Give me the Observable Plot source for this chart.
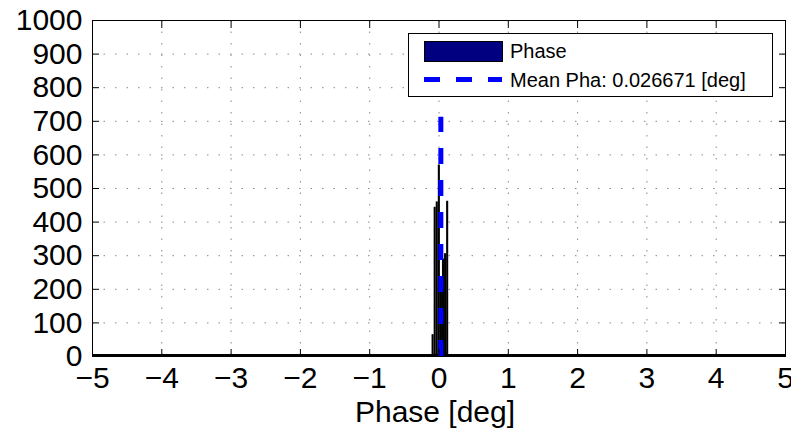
<!DOCTYPE html>
<html><head><meta charset="utf-8">
<script src="https://cdn.jsdelivr.net/npm/d3@7"></script>
<script src="https://cdn.jsdelivr.net/npm/@observablehq/plot@0.6"></script>
<style>body{margin:0;background:#fff;overflow:hidden}</style>
</head><body><div id="chart"></div>
<script>
// Histogram bins (deg) and counts
const binLo = [-0.10, -0.07, -0.04, -0.01, 0.02, 0.05, 0.08, 0.11];
const binHi = [-0.07, -0.04, -0.01, 0.02, 0.05, 0.08, 0.11, 0.14];
const counts = [65, 444, 460, 570, 200, 290, 306, 462];
const meanPhase = 0.026671;
const meanLineTop = 712;
const xTicks = [-5, -4, -3, -2, -1, 0, 1, 2, 3, 4, 5];
const yTicks = [0, 100, 200, 300, 400, 500, 600, 700, 800, 900, 1000];
const legendLabels = ["Phase", "Mean Pha: 0.026671 [deg]"];
const xLabel = "Phase [deg]";

const FONT = "'Liberation Sans', Arial, Helvetica, sans-serif";
const fmt = d => d < 0 ? "\u2212" + Math.abs(d) : String(d);
const bars = counts.map((c, i) => ({lo: binLo[i], hi: binHi[i], c}));

const chart = Plot.plot({
  width: 791, height: 436,
  marginLeft: 92, marginRight: 6, marginTop: 20, marginBottom: 80,
  style: {fontFamily: FONT, fontSize: "30px", background: "white", color: "black"},
  x: {domain: [-5, 5]},
  y: {domain: [0, 1000]},
  marks: [
    Plot.gridX(xTicks, {stroke: "#888", strokeOpacity: 1, strokeDasharray: "1.5,10"}),
    Plot.gridY(yTicks, {stroke: "#888", strokeOpacity: 1, strokeDasharray: "1.5,10"}),
    Plot.rectY(bars, {x1: "lo", x2: "hi", y: "c", fill: "black"}),
    Plot.ruleY([0], {stroke: "black", strokeWidth: 3, dy: -1}),
    Plot.ruleX([meanPhase], {y1: 0, y2: meanLineTop, stroke: "#0000ff", strokeWidth: 5, strokeDasharray: "16,16"}),
    Plot.frame({stroke: "black", strokeWidth: 1}),
    Plot.axisX({anchor: "bottom", ticks: xTicks, tickSize: 0, tickPadding: 10, tickFormat: fmt, fontSize: 30, label: null}),
    Plot.axisY({anchor: "left", ticks: yTicks, tickSize: 0, tickPadding: 10, tickFormat: d => String(d), fontSize: 30, label: null}),
    Plot.axisX({anchor: "bottom", ticks: xTicks, tickSize: -7, tickFormat: () => "", label: null}),
    Plot.axisX({anchor: "top", ticks: xTicks, tickSize: -7, tickFormat: () => "", label: null}),
    Plot.axisY({anchor: "left", ticks: yTicks, tickSize: -7, tickFormat: () => "", label: null}),
    Plot.axisY({anchor: "right", ticks: yTicks, tickSize: -7, tickFormat: () => "", label: null}),
    Plot.text([xLabel], {frameAnchor: "bottom", dx: -4, dy: 56, lineAnchor: "middle", fontSize: 30})
  ]
});
document.getElementById("chart").appendChild(chart);

// Legend
const svg = d3.select(chart);
const lg = svg.append("g").attr("font-family", FONT).attr("font-size", 20).attr("text-anchor", "start");
lg.append("rect").attr("x", 408.5).attr("y", 33.5).attr("width", 364).attr("height", 63)
  .attr("fill", "white").attr("stroke", "black");
lg.append("rect").attr("x", 424.5).attr("y", 41.5).attr("width", 78).attr("height", 20)
  .attr("fill", "#000080").attr("stroke", "black");
lg.append("text").attr("x", 510).attr("y", 58).attr("fill", "black").text(legendLabels[0]);
lg.append("line").attr("x1", 424).attr("x2", 502).attr("y1", 79.5).attr("y2", 79.5)
  .attr("stroke", "#0000ff").attr("stroke-width", 5).attr("stroke-dasharray", "16,16");
lg.append("text").attr("x", 510).attr("y", 87).attr("fill", "black").text(legendLabels[1]);
</script>
</body></html>
